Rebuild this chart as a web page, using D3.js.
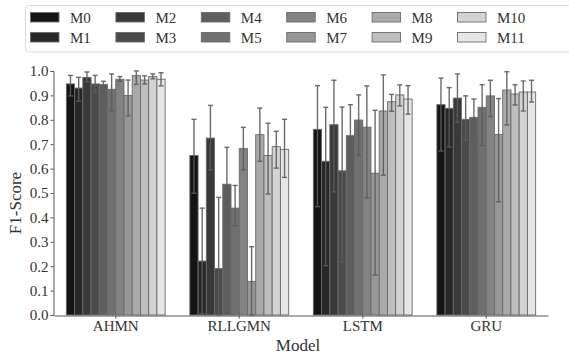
<!DOCTYPE html>
<html>
<head>
<meta charset="utf-8">
<script src="https://cdn.jsdelivr.net/npm/d3@7"></script>
<style>
  html, body { margin: 0; padding: 0; background: #fff; }
  svg { display: block; }
  svg text { font-family: "Liberation Serif", "Times New Roman", Tinos, Times, "DejaVu Serif", "Noto Serif", serif !important; }
</style>
</head>
<body>
<svg id="chart" width="569" height="354"></svg>
<script>
// ---- data ----
const models = ["AHMN", "RLLGMN", "LSTM", "GRU"];
const seriesNames = ["M0","M1","M2","M3","M4","M5","M6","M7","M8","M9","M10","M11"];
const seriesColors = ["#141414","#272727","#393939","#4b4b4b","#5e5e5e","#707070",
                      "#838383","#979797","#aaaaaa","#bebebe","#d3d3d3","#e6e6e6"];
const yTicks = [0,0.1,0.2,0.3,0.4,0.5,0.6,0.7,0.8,0.9,1.0];
// mean F1 per series (rows M0..M11), columns = models
const meanF1 = [
  [0.947, 0.654, 0.761, 0.862],
  [0.930, 0.221, 0.630, 0.847],
  [0.974, 0.725, 0.780, 0.889],
  [0.947, 0.190, 0.591, 0.802],
  [0.945, 0.536, 0.735, 0.810],
  [0.925, 0.438, 0.799, 0.851],
  [0.966, 0.682, 0.770, 0.898],
  [0.900, 0.138, 0.581, 0.740],
  [0.981, 0.739, 0.836, 0.922],
  [0.963, 0.654, 0.874, 0.906],
  [0.977, 0.690, 0.902, 0.914],
  [0.966, 0.679, 0.885, 0.914]
];
const errUpper = [
  [0.982, 0.802, 0.940, 0.971],
  [0.974, 0.438, 0.851, 0.932],
  [0.996, 0.859, 0.962, 0.988],
  [0.982, 0.482, 0.852, 0.898],
  [0.958, 0.687, 0.862, 0.885],
  [0.988, 0.531, 0.902, 0.944],
  [0.977, 0.769, 0.939, 0.962],
  [0.963, 0.280, 0.839, 0.887],
  [1.000, 0.848, 0.984, 0.997],
  [0.980, 0.786, 0.904, 0.944],
  [0.988, 0.753, 0.943, 0.959],
  [0.993, 0.802, 0.940, 0.962]
];
const errLower = [
  [0.898, 0.499, 0.444, 0.672],
  [0.876, 0.005, 0.202, 0.689],
  [0.955, 0.594, 0.505, 0.790],
  [0.911, 0.000, 0.216, 0.718],
  [0.933, 0.386, 0.578, 0.742],
  [0.837, 0.365, 0.654, 0.694],
  [0.958, 0.594, 0.480, 0.813],
  [0.816, 0.000, 0.164, 0.464],
  [0.945, 0.630, 0.573, 0.779],
  [0.947, 0.496, 0.835, 0.861],
  [0.968, 0.602, 0.857, 0.836],
  [0.939, 0.564, 0.823, 0.873]
];

// ---- layout ----
const svg = d3.select("#chart");
const plot = { left: 54, right: 548, top: 71, bottom: 315 };

const x0 = d3.scaleBand().domain(models).range([plot.left, plot.right])
  .paddingInner(0.2).paddingOuter(0.1);
const x1 = d3.scaleBand().domain(seriesNames).range([0, x0.bandwidth()]).padding(0);
const y = d3.scaleLinear().domain([0, 1]).range([plot.bottom, plot.top]);

const records = [];
seriesNames.forEach((s, si) => {
  models.forEach((m, mi) => {
    records.push({ s, si, m, v: meanF1[si][mi], lo: errLower[si][mi], hi: errUpper[si][mi] });
  });
});

// bars
svg.append("g").selectAll("rect").data(records).join("rect")
  .attr("x", d => x0(d.m) + x1(d.s))
  .attr("y", d => y(d.v))
  .attr("width", x1.bandwidth())
  .attr("height", d => y(0) - y(d.v))
  .attr("fill", d => seriesColors[d.si])
  .attr("stroke", "#6a6a6a")
  .attr("stroke-width", 0.9);

// error bars
const eg = svg.append("g").attr("stroke", "#5c5c5c").attr("stroke-width", 1.4).attr("opacity", 0.9);
records.forEach(d => {
  const cx = x0(d.m) + x1(d.s) + x1.bandwidth() / 2;
  eg.append("line").attr("x1", cx).attr("x2", cx).attr("y1", y(d.lo)).attr("y2", y(d.hi));
  eg.append("line").attr("x1", cx - 2.5).attr("x2", cx + 2.5).attr("y1", y(d.hi)).attr("y2", y(d.hi));
  eg.append("line").attr("x1", cx - 2.5).attr("x2", cx + 2.5).attr("y1", y(d.lo)).attr("y2", y(d.lo));
});

// y axis
const yAxis = svg.append("g").attr("transform", `translate(${plot.left - 0.5},0)`)
  .call(d3.axisLeft(y).tickValues(yTicks).tickFormat(d3.format(".1f")).tickSize(3).tickPadding(2));
yAxis.attr("font-family", null);
yAxis.select(".domain").attr("stroke", "#555");
yAxis.selectAll(".tick line").attr("stroke", "#555");
yAxis.selectAll("text").attr("font-size", 15).attr("fill", "#333");

// x axis
const xAxis = svg.append("g").attr("transform", `translate(0,${plot.bottom + 0.5})`)
  .call(d3.axisBottom(x0).tickSize(3).tickPadding(2).tickSizeOuter(0));
xAxis.attr("font-family", null);
xAxis.select(".domain").attr("stroke", "#555");
xAxis.selectAll(".tick line").attr("stroke", "#555");
xAxis.selectAll("text").attr("font-size", 15).attr("fill", "#333");

// axis titles
svg.append("text").attr("x", (plot.left + plot.right) / 2 - 3).attr("y", 351)
  .attr("text-anchor", "middle").attr("font-size", 17).attr("fill", "#333").text("Model");
svg.append("text").attr("transform", `translate(21,${(plot.top + plot.bottom) / 2 + 10}) rotate(-90)`)
  .attr("text-anchor", "middle").attr("font-size", 17).attr("fill", "#333").text("F1-Score");

// legend
const lg = svg.append("g");
lg.append("rect").attr("x", 25.5).attr("y", 5.5).attr("width", 560).attr("height", 46.5)
  .attr("rx", 3).attr("fill", "#fff").attr("stroke", "#dcdcdc");
seriesNames.forEach((s, i) => {
  const col = Math.floor(i / 2), row = i % 2;
  const gx = 30 + col * 85.4, gy = 12 + row * 20;
  lg.append("rect").attr("x", gx + 0.5).attr("y", gy + 0.5).attr("width", 28.5).attr("height", 9.5)
    .attr("fill", seriesColors[i]).attr("stroke", "#6a6a6a").attr("stroke-width", 0.9);
  lg.append("text").attr("x", gx + 40).attr("y", gy + 10.5).attr("font-size", 15)
    .attr("fill", "#333").text(s);
});
</script>
</body>
</html>
